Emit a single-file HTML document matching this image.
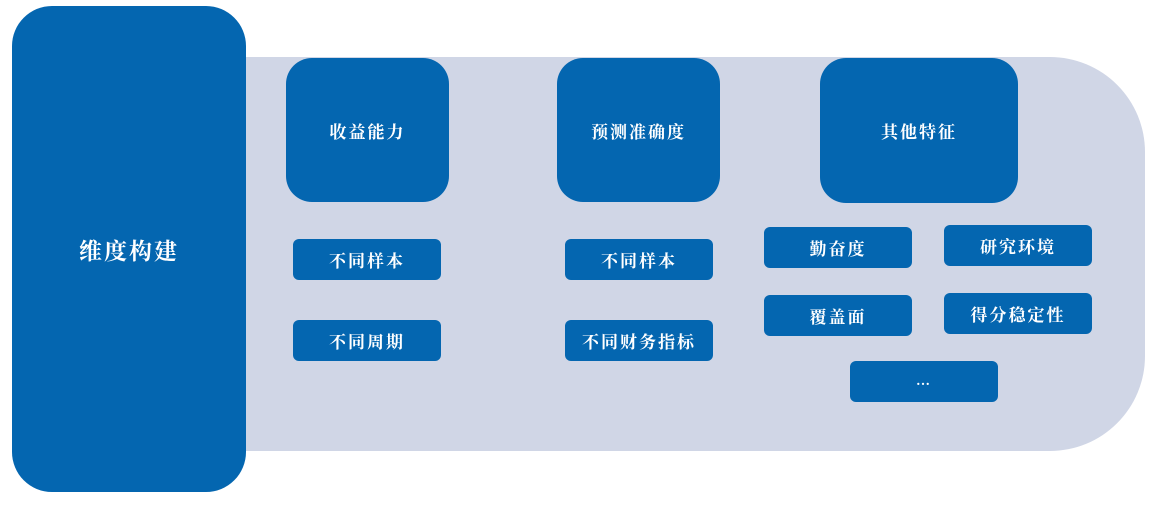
<!DOCTYPE html>
<html><head><meta charset="utf-8"><style>
body{margin:0;width:1155px;height:507px;background:#fff;position:relative;overflow:hidden;font-family:"Liberation Serif","Noto Serif CJK SC",serif;}
.b{position:absolute;background:#0466b0;color:#fff;display:flex;align-items:center;justify-content:center;font-weight:bold;letter-spacing:2px;}
.s{border-radius:6px;font-size:17px;height:41px;width:148px;}
.t{border-radius:26px;font-size:17px;}
</style></head><body>
<div style="position:absolute;left:246px;top:57px;width:899px;height:394px;background:#d0d6e6;border-radius:0 95px 95px 0;"></div>
<div class="b" style="left:12px;top:6px;width:234px;height:486px;border-radius:40px;font-size:23px;">维度构建</div>
<div class="b t" style="left:286px;top:58px;width:163px;height:144px;">收益能力</div>
<div class="b t" style="left:557px;top:58px;width:163px;height:144px;">预测准确度</div>
<div class="b t" style="left:820px;top:58px;width:198px;height:145px;">其他特征</div>
<div class="b s" style="left:293px;top:239px;">不同样本</div>
<div class="b s" style="left:293px;top:320px;">不同周期</div>
<div class="b s" style="left:565px;top:239px;">不同样本</div>
<div class="b s" style="left:565px;top:320px;">不同财务指标</div>
<div class="b s" style="left:764px;top:227px;">勤奋度</div>
<div class="b s" style="left:944px;top:225px;">研究环境</div>
<div class="b s" style="left:764px;top:295px;">覆盖面</div>
<div class="b s" style="left:944px;top:293px;">得分稳定性</div>
<div class="b s" style="left:850px;top:361px;font-size:14px;">…</div>
</body></html>
